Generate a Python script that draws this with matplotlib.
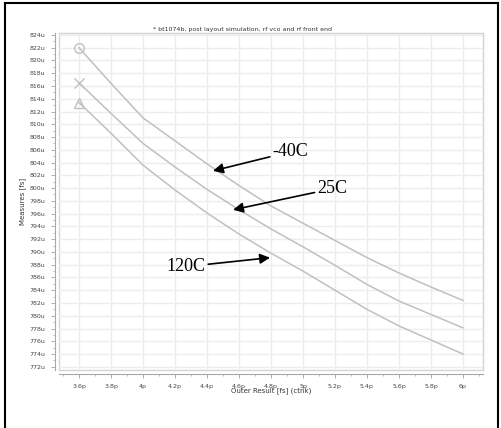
import numpy as np
import matplotlib
matplotlib.use("Agg")
import matplotlib.pyplot as plt
from matplotlib.lines import Line2D
from matplotlib.ticker import MultipleLocator, FuncFormatter

# values
outer_result = [3.6, 3.8, 4.0, 4.2, 4.4, 4.6, 4.8, 5.0, 5.2, 5.4, 5.6, 5.8, 6.0]
temp_m40 = [822.0, 816.4, 811.0, 807.4, 803.8, 800.4, 797.2, 794.5, 791.8, 789.1, 786.7, 784.5, 782.4]
temp_25 = [816.5, 811.7, 807.0, 803.3, 799.8, 796.6, 793.6, 790.8, 787.9, 784.9, 782.3, 780.2, 778.1]
temp_120 = [813.4, 808.6, 803.6, 799.7, 796.1, 792.8, 789.8, 787.0, 784.0, 781.0, 778.4, 776.2, 774.0]
series_labels = ["-40C", "25C", "120C"]
series_markers = ["o", "x", "^"]

W, H = 502, 428
fig = plt.figure(figsize=(W / 100, H / 100), dpi=100)
ax = fig.add_axes([59 / W, 1 - 370 / H, 424 / W, 337 / H])

grey = "#c0c0c0"
for vals, mk in zip([temp_m40, temp_25, temp_120], series_markers):
    ax.plot(outer_result, vals, color=grey, lw=1.1)
    ax.plot(outer_result[0], vals[0], marker=mk, color=grey, ms=7,
            mfc="none", mew=1.0, ls="none")

ax.set_xlim(3.475, 6.125)
ax.set_ylim(771.5, 824.3)

ax.xaxis.set_major_locator(MultipleLocator(0.2))
ax.xaxis.set_minor_locator(MultipleLocator(0.1))
ax.yaxis.set_major_locator(MultipleLocator(2))
ax.yaxis.set_minor_locator(MultipleLocator(1))


def fmt_x(v, pos):
    s = ("%.1f" % v).rstrip("0").rstrip(".")
    return s + "p"


ax.xaxis.set_major_formatter(FuncFormatter(fmt_x))
ax.yaxis.set_major_formatter(FuncFormatter(lambda v, p: "%du" % round(v)))

ax.grid(True, which="major", color="#ededed", lw=1.0)
ax.set_axisbelow(True)
for side in ["top", "right"]:
    ax.spines[side].set_color("#d4d4d4")
for side in ["left", "bottom"]:
    ax.spines[side].set_color("#a8a8a8")
    ax.spines[side].set_position(("outward", 3))
ax.patch.set_edgecolor("#d4d4d4")
ax.patch.set_linewidth(1.0)

ax.tick_params(which="major", length=3, width=0.6, color="#a0a0a0",
               labelsize=4.5, labelcolor="#444444", pad=4)
ax.tick_params(which="minor", length=1.5, width=0.5, color="#a0a0a0")

ax.set_xlabel("Outer Result [fs] (ctnk)", fontsize=5, labelpad=-1, color="#333333")
ax.set_ylabel("Measures [fs]", fontsize=5, labelpad=2, color="#333333")

fig.text(243 / W, 1 - 29 / H, "* bt1074b, post layout simulation, rf vco and rf front end",
         fontsize=4.5, ha="center", va="center", color="#333333")

# annotation arrows with serif labels
serif = ["Liberation Serif", "DejaVu Serif"]
arrow = dict(arrowstyle="-|>", color="black", lw=1.2, mutation_scale=15,
             shrinkA=0, shrinkB=0)
ax.annotate("-40C", xy=(4.4375, 802.7), xytext=(4.81, 805.7),
            fontsize=13, family=serif, ha="left", va="center", arrowprops=arrow)
ax.annotate("25C", xy=(4.5625, 796.6), xytext=(5.09, 799.9),
            fontsize=13, family=serif, ha="left", va="center", arrowprops=arrow)
ax.annotate("120C", xy=(4.794, 789.1), xytext=(4.39, 787.7),
            fontsize=13, family=serif, ha="right", va="center", arrowprops=arrow)

# black frame around the picture
for (x0, y0, x1, y1) in [(5, 3, 498, 3), (498, 3, 498, 428), (5, 3, 5, 428)]:
    fig.add_artist(Line2D([x0 / W, x1 / W], [1 - y0 / H, 1 - y1 / H],
                          transform=fig.transFigure, color="black", lw=1.5))

fig.savefig("out.png", dpi=100)
